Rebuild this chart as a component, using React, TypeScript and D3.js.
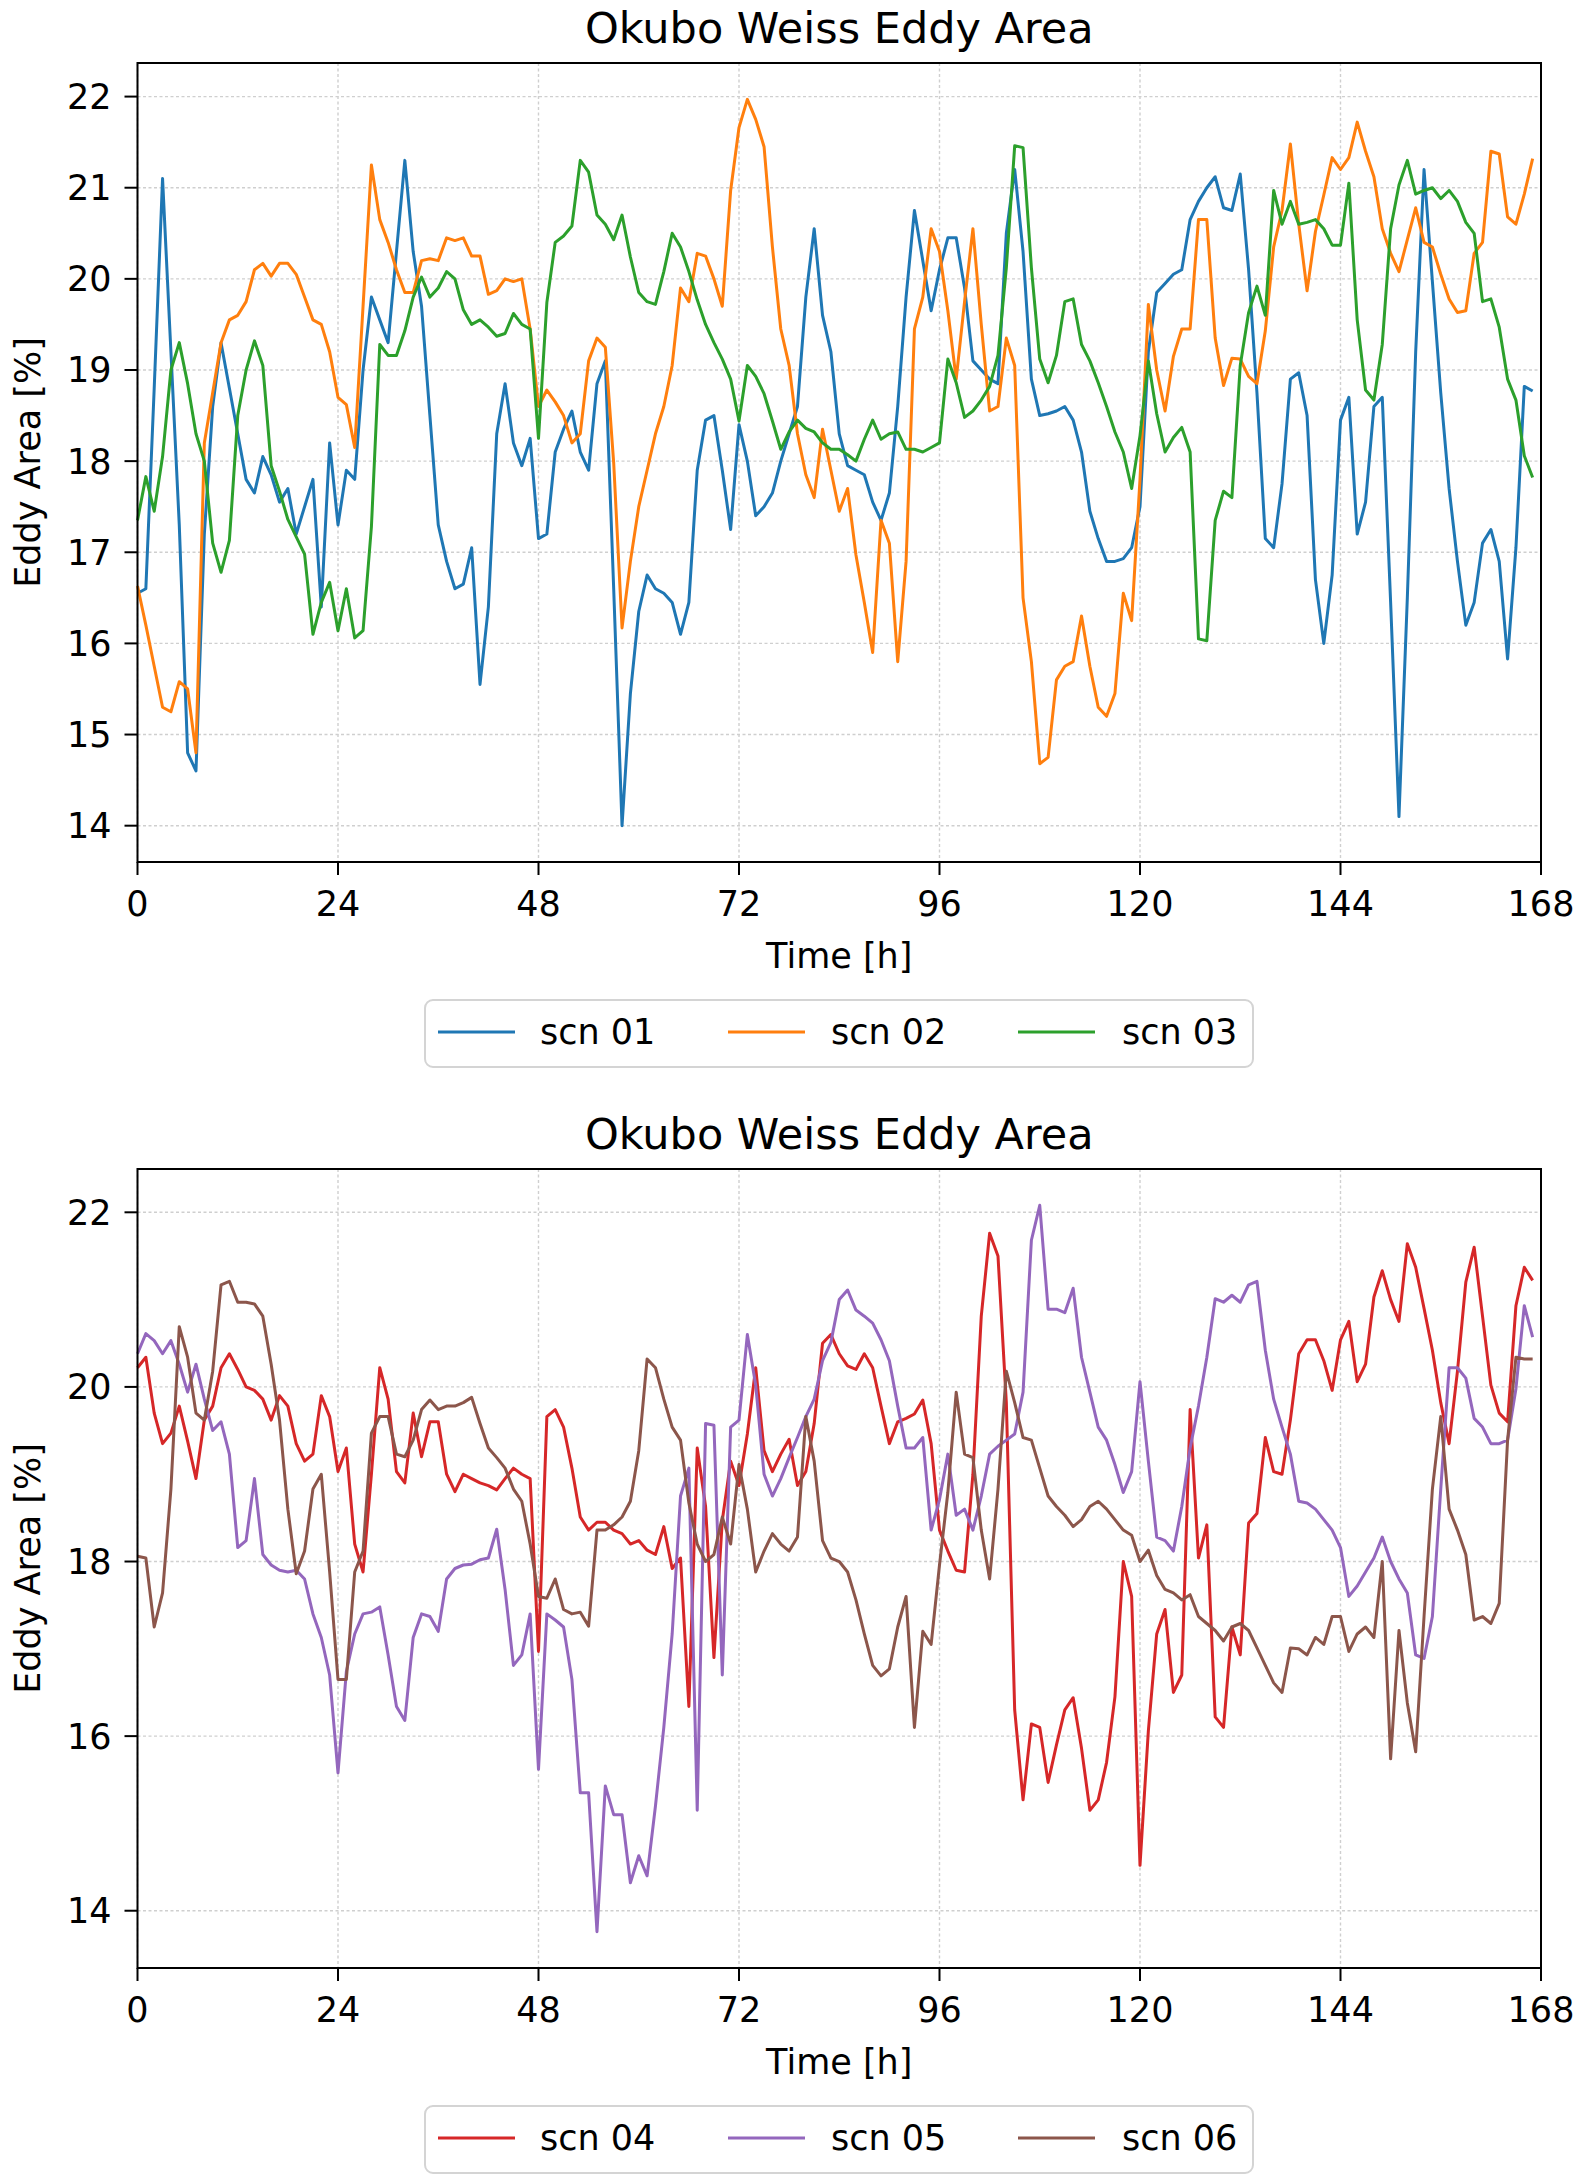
import * as d3 from "d3";

// hourly samples, 0..167 h
const hours = d3.range(168);

const scn01 = [
  16.55, 16.6, 18.8, 21.1, 19.2, 17.3, 14.8, 14.6, 17.2, 18.6, 19.3, 18.8,
  18.3, 17.8, 17.65, 18.05, 17.85, 17.55, 17.7, 17.2, 17.5, 17.8, 16.4, 18.2,
  17.3, 17.9, 17.8, 19.0, 19.8, 19.55, 19.3, 20.3, 21.3, 20.3, 19.7, 18.5,
  17.3, 16.9, 16.6, 16.65, 17.05, 15.55, 16.4, 18.3, 18.85, 18.2, 17.95, 18.25,
  17.15, 17.2, 18.1, 18.35, 18.55, 18.1, 17.9, 18.85, 19.1, 16.6, 14.0, 15.45,
  16.35, 16.75, 16.6, 16.55, 16.45, 16.1, 16.45, 17.9, 18.45, 18.5, 17.9, 17.25,
  18.4, 18.0, 17.4, 17.5, 17.65, 18.0, 18.3, 18.6, 19.8, 20.55, 19.6, 19.2,
  18.3, 17.95, 17.9, 17.85, 17.55, 17.35, 17.65, 18.6, 19.8, 20.75, 20.2, 19.65,
  20.1, 20.45, 20.45, 19.9, 19.1, 19.0, 18.9, 18.85, 20.5, 21.2, 20.3, 18.9,
  18.5, 18.52, 18.55, 18.6, 18.45, 18.1, 17.45, 17.15, 16.9, 16.9, 16.93, 17.05,
  17.5, 19.2, 19.85, 19.95, 20.05, 20.1, 20.65, 20.85, 21.0, 21.12, 20.78, 20.75,
  21.15, 20.1, 18.75, 17.15, 17.05, 17.75, 18.9, 18.97, 18.5, 16.7, 16.0, 16.75,
  18.45, 18.7, 17.2, 17.55, 18.6, 18.7, 16.45, 14.1, 16.5, 19.2, 21.2, 19.97,
  18.75, 17.7, 16.9, 16.2, 16.45, 17.1, 17.25, 16.9, 15.83, 17.05, 18.82, 18.77,
];

const scn02 = [
  16.63, 16.2, 15.75, 15.3, 15.25, 15.58, 15.5, 14.8, 18.2, 18.75, 19.3, 19.55,
  19.6, 19.75, 20.1, 20.17, 20.03, 20.17, 20.17, 20.05, 19.8, 19.55, 19.5, 19.2,
  18.7, 18.62, 18.15, 19.7, 21.25, 20.65, 20.4, 20.1, 19.85, 19.85, 20.2, 20.22,
  20.2, 20.45, 20.42, 20.45, 20.25, 20.25, 19.83, 19.87, 20.0, 19.97, 20.0, 19.45,
  18.6, 18.78, 18.65, 18.5, 18.2, 18.3, 19.1, 19.35, 19.25, 17.98, 16.17, 16.9,
  17.5, 17.9, 18.3, 18.6, 19.05, 19.9, 19.75, 20.28, 20.25, 20.0, 19.7, 20.97,
  21.66, 21.97, 21.75, 21.45, 20.35, 19.45, 19.05, 18.3, 17.85, 17.6, 18.35, 17.9,
  17.45, 17.7, 16.97, 16.45, 15.9, 17.35, 17.1, 15.8, 16.9, 19.45, 19.8, 20.55,
  20.3, 19.65, 18.9, 19.75, 20.55, 19.5, 18.55, 18.6, 19.35, 19.05, 16.5, 15.8,
  14.68, 14.75, 15.6, 15.75, 15.8, 16.3, 15.75, 15.3, 15.2, 15.45, 16.55, 16.25,
  17.8, 19.72, 19.0, 18.55, 19.15, 19.45, 19.45, 20.65, 20.65, 19.35, 18.83, 19.13,
  19.12, 18.93, 18.85, 19.43, 20.35, 20.75, 21.48, 20.6, 19.87, 20.52, 20.92, 21.33,
  21.2, 21.33, 21.72, 21.4, 21.12, 20.55, 20.28, 20.08, 20.43, 20.78, 20.4, 20.35,
  20.05, 19.78, 19.63, 19.65, 20.28, 20.4, 21.4, 21.37, 20.68, 20.6, 20.93, 21.32,
];

const scn03 = [
  17.35, 17.83, 17.45, 18.05, 19.0, 19.3, 18.85, 18.3, 18.0, 17.1, 16.78, 17.13,
  18.5, 19.0, 19.32, 19.05, 17.95, 17.67, 17.36, 17.17, 16.98, 16.1, 16.45, 16.67,
  16.14, 16.6, 16.06, 16.14, 17.28, 19.28, 19.16, 19.16, 19.43, 19.8, 20.02, 19.8,
  19.9, 20.08, 20.0, 19.66, 19.5, 19.55, 19.47, 19.37, 19.4, 19.62, 19.5, 19.45,
  18.25, 19.74, 20.4, 20.47, 20.58, 21.3, 21.17, 20.7, 20.6, 20.43, 20.7, 20.24,
  19.85, 19.75, 19.72, 20.08, 20.5, 20.35, 20.08, 19.77, 19.5, 19.3, 19.12, 18.9,
  18.44, 19.05, 18.93, 18.74, 18.44, 18.13, 18.32, 18.45, 18.36, 18.32, 18.2, 18.13,
  18.13, 18.07, 18.0, 18.24, 18.45, 18.24, 18.3, 18.32, 18.13, 18.13, 18.1, 18.15,
  18.2, 19.12, 18.86, 18.48, 18.55, 18.67, 18.82, 19.16, 20.12, 21.46, 21.44, 20.12,
  19.12, 18.86, 19.16, 19.75, 19.78, 19.28, 19.1, 18.86, 18.6, 18.32, 18.1, 17.7,
  18.28, 19.1, 18.52, 18.1, 18.26, 18.37, 18.1, 16.05, 16.03, 17.35, 17.67, 17.6,
  19.05, 19.63, 19.92, 19.6, 20.97, 20.6, 20.85, 20.6, 20.62, 20.65, 20.55, 20.37,
  20.37, 21.05, 19.55, 18.78, 18.67, 19.28, 20.55, 21.03, 21.3, 20.93, 20.97, 21.0,
  20.88, 20.97, 20.85, 20.62, 20.5, 19.75, 19.78, 19.47, 18.9, 18.67, 18.06, 17.82,
];

const scn04 = [
  20.22, 20.34, 19.7, 19.35, 19.47, 19.78, 19.38, 18.95, 19.62, 19.78, 20.22, 20.38,
  20.2, 20.0, 19.96, 19.86, 19.62, 19.9, 19.78, 19.35, 19.15, 19.23, 19.9, 19.66,
  19.03, 19.3, 18.2, 17.88, 19.0, 20.22, 19.86, 19.03, 18.9, 19.7, 19.2, 19.6,
  19.6, 19.0, 18.8, 19.0, 18.95, 18.9, 18.87, 18.82, 18.95, 19.07, 19.0, 18.95,
  16.97, 19.66, 19.74, 19.54, 19.07, 18.51, 18.36, 18.45, 18.45, 18.36, 18.32, 18.2,
  18.24, 18.13, 18.08, 18.4, 17.92, 18.04, 16.34, 19.3, 18.63, 16.9, 18.47, 19.15,
  18.87, 19.46, 20.22, 19.27, 19.03, 19.23, 19.4, 18.87, 19.03, 19.58, 20.5, 20.6,
  20.38, 20.24, 20.2, 20.38, 20.22, 19.78, 19.35, 19.6, 19.64, 19.69, 19.85, 19.35,
  18.36, 18.12, 17.9, 17.88, 19.0, 20.81, 21.76, 21.5, 19.82, 16.3, 15.27, 16.14,
  16.1, 15.47, 15.9, 16.3, 16.44, 15.86, 15.15, 15.27, 15.7, 16.45, 18.0, 17.6,
  14.52, 16.06, 17.17, 17.45, 16.5, 16.7, 19.74, 18.04, 18.42, 16.22, 16.1, 17.25,
  16.93, 18.44, 18.55, 19.42, 19.03, 19.0, 19.62, 20.38, 20.54, 20.54, 20.3, 19.96,
  20.54, 20.75, 20.06, 20.26, 21.03, 21.33, 21.0, 20.75, 21.64, 21.37, 20.9, 20.42,
  19.82, 19.35, 20.18, 21.2, 21.6, 20.81, 20.02, 19.7, 19.6, 20.93, 21.37, 21.22,
];

const scn05 = [
  20.38, 20.61, 20.53, 20.38, 20.53, 20.26, 19.94, 20.26, 19.86, 19.5, 19.6, 19.23,
  18.16, 18.24, 18.95, 18.08, 17.96, 17.9, 17.88, 17.9, 17.8, 17.4, 17.13, 16.7,
  15.58, 16.74, 17.17, 17.4, 17.42, 17.48, 16.93, 16.34, 16.18, 17.13, 17.4, 17.37,
  17.2, 17.8, 17.92, 17.96, 17.97, 18.02, 18.04, 18.37, 17.68, 16.81, 16.93, 17.4,
  15.62, 17.4, 17.33, 17.25, 16.65, 15.35, 15.35, 13.76, 15.43, 15.1, 15.1, 14.32,
  14.63, 14.4, 15.2, 16.1, 17.17, 18.75, 19.07, 15.15, 19.58, 19.56, 16.7, 19.54,
  19.62, 20.6, 20.02, 19.0, 18.75, 18.95, 19.19, 19.42, 19.66, 19.86, 20.3, 20.51,
  21.0, 21.11, 20.88, 20.81, 20.73, 20.54, 20.3, 19.78, 19.3, 19.3, 19.42, 18.36,
  18.71, 19.23, 18.53, 18.6, 18.36, 18.75, 19.23, 19.32, 19.39, 19.46, 19.94, 21.68,
  22.08, 20.89, 20.89, 20.85, 21.13, 20.34, 19.94, 19.54, 19.39, 19.11, 18.79, 19.03,
  20.06, 19.15, 18.28, 18.24, 18.12, 18.63, 19.3, 19.78, 20.34, 21.01, 20.97, 21.05,
  20.97, 21.17, 21.21, 20.42, 19.86, 19.54, 19.23, 18.69, 18.67, 18.6, 18.48, 18.36,
  18.16, 17.6, 17.72, 17.88, 18.04, 18.28, 18.0, 17.8, 17.64, 16.93, 16.89, 17.37,
  18.83, 20.22, 20.22, 20.1, 19.64, 19.54, 19.35, 19.35, 19.39, 19.98, 20.93, 20.57,
];

const scn06 = [
  18.06, 18.04, 17.25, 17.64, 18.83, 20.69, 20.34, 19.7, 19.62, 20.18, 21.17, 21.21,
  20.97, 20.97, 20.95, 20.81, 20.26, 19.62, 18.6, 17.86, 18.12, 18.83, 19.0, 17.88,
  16.65, 16.65, 17.88, 18.12, 19.47, 19.66, 19.66, 19.23, 19.2, 19.39, 19.74, 19.85,
  19.74, 19.78, 19.78, 19.82, 19.88, 19.58, 19.3, 19.19, 19.07, 18.83, 18.69, 18.2,
  17.6, 17.58, 17.8, 17.45, 17.4, 17.42, 17.26, 18.36, 18.36, 18.42, 18.51, 18.69,
  19.27, 20.32, 20.22, 19.86, 19.54, 19.39, 18.67, 18.2, 18.0, 18.08, 18.51, 18.2,
  19.11, 18.6, 17.88, 18.12, 18.32, 18.2, 18.12, 18.28, 19.66, 19.15, 18.24, 18.04,
  18.0, 17.88, 17.56, 17.17, 16.81, 16.69, 16.77, 17.25, 17.6, 16.1, 17.2, 17.05,
  17.96, 18.79, 19.94, 19.23, 19.19, 18.36, 17.8, 18.83, 20.18, 19.82, 19.42, 19.39,
  19.07, 18.75, 18.63, 18.53, 18.4, 18.48, 18.63, 18.69, 18.6, 18.48, 18.36, 18.3,
  18.0, 18.13, 17.84, 17.68, 17.64, 17.56, 17.62, 17.37, 17.29, 17.21, 17.09, 17.25,
  17.29, 17.21, 17.01, 16.81, 16.61, 16.5, 17.01, 17.0, 16.93, 17.13, 17.05, 17.37,
  17.37, 16.97, 17.17, 17.25, 17.13, 18.0, 15.74, 17.21, 16.38, 15.82, 17.37, 18.83,
  19.66, 18.6, 18.36, 18.08, 17.33, 17.37, 17.29, 17.52, 19.39, 20.34, 20.32, 20.32,
];

const xTicks = [0, 24, 48, 72, 96, 120, 144, 168];
const topYTicks = [14, 15, 16, 17, 18, 19, 20, 21, 22];
const bottomYTicks = [14, 16, 18, 20, 22];

const topSeries = [
  { name: "scn 01", color: "#1f77b4", values: scn01 },
  { name: "scn 02", color: "#ff7f0e", values: scn02 },
  { name: "scn 03", color: "#2ca02c", values: scn03 },
];
const bottomSeries = [
  { name: "scn 04", color: "#d62728", values: scn04 },
  { name: "scn 05", color: "#9467bd", values: scn05 },
  { name: "scn 06", color: "#8c564b", values: scn06 },
];

const W = 1584;
const H = 2183;
const FONT = "'DejaVu Sans', sans-serif";
const AX = { left: 137.5, right: 1541, top: 63, bottom: 862 };
const TICK = 13;

interface Series {
  name: string;
  color: string;
  values: number[];
}

function Panel({ series, yTicks, dy }: { series: Series[]; yTicks: number[]; dy: number }) {
  const x = d3.scaleLinear().domain([0, 168]).range([AX.left, AX.right]);
  const [lo, hi] = d3.extent(series.flatMap((s) => s.values)) as [number, number];
  const pad = (hi - lo) * 0.05;
  const y = d3.scaleLinear().domain([lo - pad, hi + pad]).range([AX.bottom, AX.top]);
  const line = d3
    .line<number>()
    .x((_, i) => x(hours[i]))
    .y((v) => y(v));
  const cx = (AX.left + AX.right) / 2;
  const cy = (AX.top + AX.bottom) / 2;

  return (
    <g transform={`translate(0,${dy})`} fontFamily={FONT}>
      <text x={cx} y={43} textAnchor="middle" fontSize={43} fill="#000">
        Okubo Weiss Eddy Area
      </text>

      {/* grille */}
      {xTicks.map((t) => (
        <line key={"gx" + t} x1={x(t)} x2={x(t)} y1={AX.top} y2={AX.bottom}
          stroke="#cfcfcf" strokeWidth={1.4} strokeDasharray="3,2.5" />
      ))}
      {yTicks.map((t) => (
        <line key={"gy" + t} x1={AX.left} x2={AX.right} y1={y(t)} y2={y(t)}
          stroke="#cfcfcf" strokeWidth={1.4} strokeDasharray="3,2.5" />
      ))}

      {/* courbes */}
      {series.map((s) => (
        <path key={s.name} d={line(s.values) || ""} fill="none" stroke={s.color}
          strokeWidth={3} strokeLinejoin="round" strokeLinecap="butt" />
      ))}

      {/* cadre */}
      <rect x={AX.left} y={AX.top} width={AX.right - AX.left} height={AX.bottom - AX.top}
        fill="none" stroke="#000" strokeWidth={2} />

      {/* axe x */}
      {xTicks.map((t) => (
        <g key={"tx" + t}>
          <line x1={x(t)} x2={x(t)} y1={AX.bottom} y2={AX.bottom + TICK} stroke="#000" strokeWidth={2} />
          <text x={x(t)} y={916} textAnchor="middle" fontSize={35}>{t}</text>
        </g>
      ))}
      <text x={cx} y={968} textAnchor="middle" fontSize={35}>Time [h]</text>

      {/* axe y */}
      {yTicks.map((t) => (
        <g key={"ty" + t}>
          <line x1={AX.left - TICK} x2={AX.left} y1={y(t)} y2={y(t)} stroke="#000" strokeWidth={2} />
          <text x={AX.left - TICK - 13} y={y(t) + 12.5} textAnchor="end" fontSize={35}>{t}</text>
        </g>
      ))}
      <text transform={`translate(40,${cy}) rotate(-90)`} textAnchor="middle" fontSize={35}>
        Eddy Area [%]
      </text>

      {/* légende */}
      <rect x={425} y={1000} width={828} height={67} rx={8} fill="#fff" stroke="#d4d4d4" strokeWidth={2} />
      {series.map((s, i) => (
        <g key={"lg" + s.name}>
          <line x1={438 + i * 290} x2={515 + i * 290} y1={1032} y2={1032} stroke={s.color} strokeWidth={3} />
          <text x={540 + i * 291} y={1044} fontSize={35}>{s.name}</text>
        </g>
      ))}
    </g>
  );
}

export default function App() {
  return (
    <div style={{ position: "absolute", left: 0, top: 0 }}>
      <svg width={W} height={H} viewBox={`0 0 ${W} ${H}`} style={{ display: "block", background: "#fff" }}>
        <rect width={W} height={H} fill="#fff" />
        <Panel series={topSeries} yTicks={topYTicks} dy={0} />
        <Panel series={bottomSeries} yTicks={bottomYTicks} dy={1106} />
      </svg>
    </div>
  );
}
